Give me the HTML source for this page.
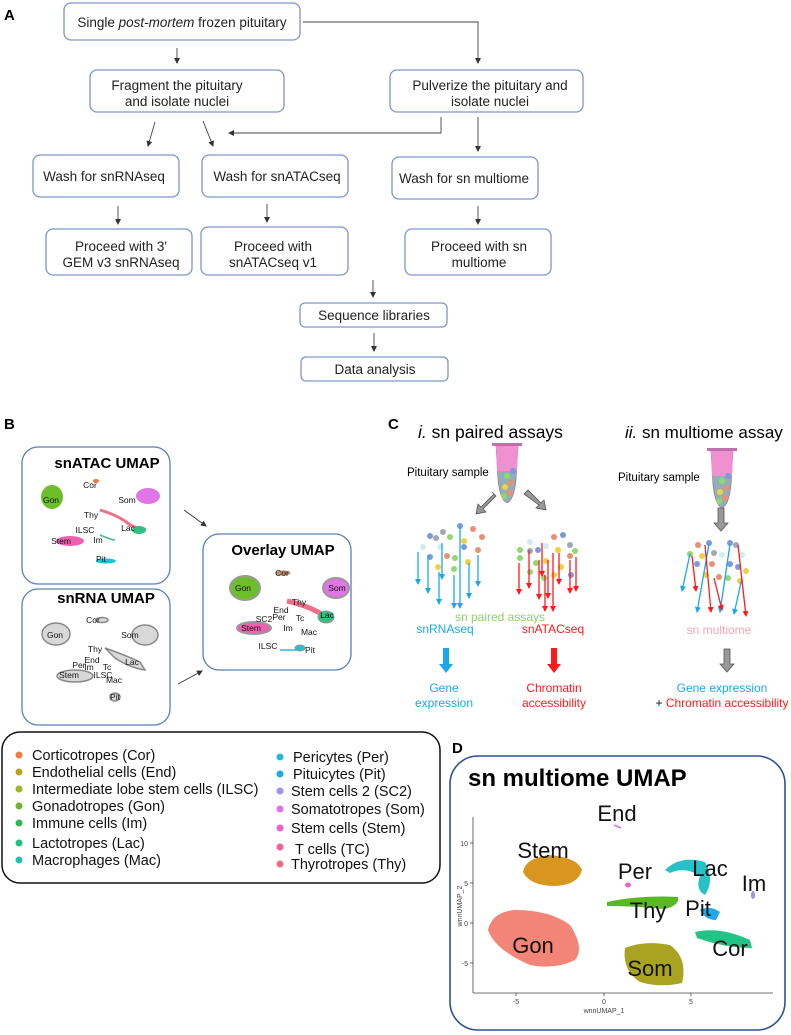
<!DOCTYPE html>
<html><head><meta charset="utf-8"><style>
html,body{margin:0;padding:0;background:#fff;}
svg{display:block;font-family:"Liberation Sans",sans-serif;}
</style></head><body>
<svg width="791" height="1035" viewBox="0 0 791 1035" xmlns="http://www.w3.org/2000/svg">
<defs>
<marker id="ah" markerWidth="6" markerHeight="6" refX="5" refY="3" orient="auto" markerUnits="userSpaceOnUse"><path d="M0,0 L6,3 L0,6 z" fill="#333"/></marker>
<marker id="ab" markerWidth="6" markerHeight="6" refX="5" refY="3" orient="auto" markerUnits="userSpaceOnUse"><path d="M0,0 L6,3 L0,6 z" fill="#1aa7ec"/></marker>
<marker id="ar" markerWidth="6" markerHeight="6" refX="5" refY="3" orient="auto" markerUnits="userSpaceOnUse"><path d="M0,0 L6,3 L0,6 z" fill="#ff1a1a"/></marker>
</defs>

<!-- Panel A -->
<text x="4" y="20" font-size="15" font-weight="bold">A</text>
<g fill="#fff" stroke="#7d96c6" stroke-width="1.3">
<rect x="64" y="3" width="236" height="37" rx="7"/>
<rect x="90" y="70" width="194" height="42" rx="7"/>
<rect x="390" y="70" width="193" height="42" rx="7"/>
<rect x="33" y="155" width="146" height="42" rx="7"/>
<rect x="202" y="155" width="146" height="42" rx="7"/>
<rect x="392" y="157" width="146" height="42" rx="7"/>
<rect x="46" y="229" width="146" height="46" rx="7"/>
<rect x="201" y="227" width="147" height="48" rx="7"/>
<rect x="405" y="229" width="146" height="46" rx="7"/>
<rect x="300" y="303" width="147" height="24" rx="5"/>
<rect x="301" y="357" width="147" height="24" rx="5"/>
</g>
<g font-size="13.5" fill="#222" text-anchor="middle">
<text x="182" y="27">Single <tspan font-style="italic">post-mortem</tspan> frozen pituitary</text>
<text x="177" y="90">Fragment the pituitary</text><text x="177" y="106">and isolate nuclei</text>
<text x="490" y="90">Pulverize the pituitary and</text><text x="490" y="106">isolate nuclei</text>
<text x="104" y="181">Wash for snRNAseq</text>
<text x="277" y="181">Wash for snATACseq</text>
<text x="464" y="183">Wash for sn multiome</text>
<text x="121" y="251">Proceed with 3'</text><text x="121" y="267">GEM v3 snRNAseq</text>
<text x="273" y="251">Proceed with</text><text x="273" y="267">snATACseq v1</text>
<text x="479" y="251">Proceed with sn</text><text x="479" y="267">multiome</text>
<text x="374" y="320">Sequence libraries</text>
<text x="375" y="374">Data analysis</text>
</g>
<g stroke="#444" stroke-width="0.9" fill="none" marker-end="url(#ah)">
<line x1="177" y1="48" x2="177" y2="63"/>
<polyline points="303,22 478,22 478,63"/>
<line x1="155" y1="122" x2="148" y2="146"/>
<line x1="203" y1="121" x2="213" y2="146"/>
<polyline points="441,117 441,133 229,133"/>
<line x1="478" y1="117" x2="478" y2="151"/>
<line x1="118" y1="206" x2="118" y2="224"/>
<line x1="267" y1="204" x2="267" y2="222"/>
<line x1="478" y1="206" x2="478" y2="224"/>
<line x1="373" y1="280" x2="373" y2="297"/>
<line x1="374" y1="333" x2="374" y2="351"/>
</g>

<!-- Panel B -->
<text x="4" y="429" font-size="15" font-weight="bold">B</text>
<g fill="#fff" stroke="#5a7db8" stroke-width="1.3">
<rect x="22" y="447" width="148" height="137" rx="16"/>
<rect x="22" y="589" width="148" height="136" rx="16"/>
<rect x="203" y="534" width="148" height="136" rx="16"/>
</g>
<g font-size="15" font-weight="bold" text-anchor="middle">
<text x="107" y="468">snATAC UMAP</text>
<text x="106" y="603">snRNA UMAP</text>
<text x="283" y="555">Overlay UMAP</text>
</g>
<g stroke="#333" stroke-width="0.9" marker-end="url(#ah)">
<line x1="184" y1="510" x2="206" y2="526"/>
<line x1="178" y1="684" x2="202" y2="671"/>
</g>
<ellipse cx="52" cy="497" rx="11" ry="12" fill="#6dbf2a"/>
<ellipse cx="96" cy="481" rx="3" ry="2" fill="#ef7a3a"/>
<ellipse cx="148" cy="496" rx="12" ry="8" fill="#e075e6"/>
<path d="M100,510 Q120,516 130,525 Q142,530 146,529" stroke="#ef6f8a" stroke-width="3" fill="none"/>
<ellipse cx="139" cy="530" rx="7" ry="4" fill="#30c080"/>
<path d="M100,535 Q112,540 115,540" stroke="#40c080" stroke-width="1.5" fill="none"/>
<ellipse cx="70" cy="541" rx="14" ry="5" fill="#f060b0"/>
<ellipse cx="106" cy="561" rx="10" ry="2.5" fill="#20c0d8"/>
<g font-size="8.5" text-anchor="middle" fill="#111">
<text x="90" y="488">Cor</text><text x="51" y="503">Gon</text><text x="127" y="503">Som</text>
<text x="91" y="518">Thy</text><text x="128" y="531">Lac</text><text x="85" y="533">ILSC</text>
<text x="98" y="543">Im</text><text x="61" y="544">Stem</text><text x="101" y="562">Pit</text>
</g>
<g fill="#d8d8d8" stroke="#888" stroke-width="1.5">
<ellipse cx="56" cy="634" rx="14" ry="11"/>
<ellipse cx="145" cy="635" rx="13" ry="10"/>
<ellipse cx="102" cy="620" rx="6" ry="2.5"/>
<path d="M105,648 Q125,655 140,662 L145,670 Q130,668 115,658 Z"/>
<ellipse cx="75" cy="676" rx="18" ry="6"/>
<ellipse cx="115" cy="697" rx="5" ry="4"/>
</g>
<g font-size="8.5" text-anchor="middle" fill="#111">
<text x="93" y="623">Cor</text><text x="55" y="638">Gon</text><text x="130" y="638">Som</text>
<text x="95" y="652">Thy</text><text x="92" y="663">End</text><text x="132" y="665">Lac</text>
<text x="79" y="668">Per</text><text x="89" y="670">Im</text><text x="107" y="670">Tc</text>
<text x="69" y="678">Stem</text><text x="103" y="678">ILSC</text><text x="114" y="683">Mac</text>
<text x="115" y="700">Pit</text>
</g>
<ellipse cx="245" cy="588" rx="15" ry="12" fill="#6dbf2a" stroke="#999" stroke-width="2"/>
<ellipse cx="283" cy="573" rx="7" ry="2" fill="#e0884a" stroke="#999"/>
<ellipse cx="336" cy="588" rx="13" ry="10" fill="#e075e6" stroke="#999" stroke-width="2"/>
<path d="M287,601 Q305,605 318,612 L328,620" stroke="#ef6f8a" stroke-width="5" fill="none"/>
<ellipse cx="326" cy="617" rx="8" ry="6" fill="#30c080" stroke="#999"/>
<ellipse cx="254" cy="628" rx="17" ry="6" fill="#f060b0" stroke="#999" stroke-width="2"/>
<path d="M280,650 L300,650" stroke="#20c0d8" stroke-width="1.5"/>
<ellipse cx="300" cy="648" rx="5" ry="3" fill="#20c0d8" stroke="#999"/>
<g font-size="8.5" text-anchor="middle" fill="#111">
<text x="282" y="576">Cor</text><text x="243" y="591">Gon</text><text x="337" y="591">Som</text>
<text x="299" y="605">Thy</text><text x="281" y="613">End</text><text x="327" y="618">Lac</text>
<text x="264" y="622">SC2</text><text x="279" y="620">Per</text><text x="300" y="621">Tc</text>
<text x="251" y="631">Stem</text><text x="288" y="631">Im</text><text x="309" y="635">Mac</text>
<text x="268" y="649">ILSC</text><text x="310" y="653">Pit</text>
</g>

<!-- Legend -->
<rect x="2" y="732" width="438" height="151" rx="18" fill="#fff" stroke="#111" stroke-width="1.5"/>
<g font-size="14.5" fill="#111">
<circle cx="19" cy="755" r="3.5" fill="#ef7a3a"/><text x="32" y="760">Corticotropes (Cor)</text>
<circle cx="19" cy="772" r="3.5" fill="#b8a21a"/><text x="32" y="777">Endothelial cells (End)</text>
<circle cx="19" cy="789" r="3.5" fill="#9fb420"/><text x="32" y="794">Intermediate lobe stem cells (ILSC)</text>
<circle cx="19" cy="806" r="3.5" fill="#6db82a"/><text x="32" y="811">Gonadotropes (Gon)</text>
<circle cx="19" cy="823" r="3.5" fill="#30b850"/><text x="32" y="828">Immune cells (Im)</text>
<circle cx="19" cy="843" r="3.5" fill="#20c080"/><text x="32" y="848">Lactotropes (Lac)</text>
<circle cx="19" cy="860" r="3.5" fill="#20c0b8"/><text x="32" y="865">Macrophages (Mac)</text>
<circle cx="280" cy="757" r="3.5" fill="#20b8d8"/><text x="293" y="762">Pericytes (Per)</text>
<circle cx="280" cy="774" r="3.5" fill="#20a8ea"/><text x="293" y="779">Pituicytes (Pit)</text>
<circle cx="280" cy="791" r="3.5" fill="#a090f0"/><text x="291" y="796">Stem cells 2 (SC2)</text>
<circle cx="280" cy="809" r="3.5" fill="#e070e8"/><text x="291" y="814">Somatotropes (Som)</text>
<circle cx="280" cy="828" r="3.5" fill="#f060c8"/><text x="291" y="833">Stem cells (Stem)</text>
<circle cx="280" cy="847" r="3.5" fill="#f060a0"/><text x="295" y="854">T cells (TC)</text>
<circle cx="280" cy="864" r="3.5" fill="#f06a80"/><text x="291" y="869">Thyrotropes (Thy)</text>
</g>

<!-- Panel C -->
<text x="388" y="429" font-size="15" font-weight="bold">C</text>
<text x="418" y="438" font-size="17.5"><tspan font-style="italic">i.</tspan> sn paired assays</text>
<text x="625" y="438" font-size="17"><tspan font-style="italic">ii.</tspan> sn multiome assay</text>
<g id="tube">
<rect x="492" y="443" width="30" height="3" fill="#c070b0"/>
<path d="M496,446 L518,446 L516,480 Q514,500 507,503 Q500,500 498,480 Z" fill="#8fb0b8" stroke="#a06090" stroke-width="0.6"/>
<path d="M496,446 L518,446 L517,471 L497,471 Z" fill="#f090d0"/>
<circle cx="513" cy="471" r="3" fill="#7a9ae0"/><circle cx="507" cy="476" r="3" fill="#90d870"/>
<circle cx="511" cy="483" r="3" fill="#e89070"/><circle cx="505" cy="487" r="3" fill="#f0d040"/>
<circle cx="510" cy="493" r="3" fill="#e89070"/><circle cx="504" cy="496" r="3" fill="#90d870"/>
</g>
<use href="#tube" x="215" y="5"/>
<text x="407" y="476" font-size="11.5">Pituitary sample</text>
<text x="618" y="481" font-size="11.5">Pituitary sample</text>
<g fill="#999" stroke="#555" stroke-width="0.8">
<path d="M492,492 L496,496 L483,509 L486,512 L476,514 L478,504 L481,507 L494,494 Z"/>
<path d="M524,494 L528,490 L541,503 L544,500 L546,510 L536,508 L539,505 Z"/>
<path d="M718,508 L724,508 L724,523 L728,523 L721,531 L714,523 L718,523 Z"/>
<path d="M724,649 L730,649 L730,664 L734,664 L727,672 L720,664 L724,664 Z"/>
</g>
<path d="M443,648 L449,648 L449,664 L453,664 L446,673 L439,664 L443,664 Z" fill="#1aa7ec"/>
<path d="M551,648 L557,648 L557,664 L561,664 L554,673 L547,664 L551,664 Z" fill="#ff1a1a"/>
<g>
<circle cx="430" cy="536" r="3" fill="#7a9ae0"/><circle cx="436" cy="538" r="3" fill="#a0a8b8"/>
<circle cx="443" cy="532" r="3" fill="#a0a8b8"/><circle cx="450" cy="537" r="3" fill="#90d870"/>
<circle cx="460" cy="526" r="3" fill="#7a9ae0"/><circle cx="473" cy="529" r="3" fill="#e89070"/>
<circle cx="482" cy="537" r="3" fill="#e89070"/><circle cx="464" cy="541" r="3" fill="#f0d040"/>
<circle cx="464" cy="547" r="3" fill="#7a9ae0"/><circle cx="423" cy="547" r="3" fill="#d0ecf0"/>
<circle cx="440" cy="547" r="3" fill="#d0ecf0"/><circle cx="478" cy="550" r="3" fill="#e89070"/>
<circle cx="430" cy="557" r="3" fill="#7a9ae0"/><circle cx="447" cy="556" r="3" fill="#e89070"/>
<circle cx="455" cy="558" r="3" fill="#90d870"/><circle cx="468" cy="562" r="3" fill="#f0d040"/>
<circle cx="438" cy="567" r="3" fill="#f0d040"/><circle cx="454" cy="569" r="3" fill="#90d870"/>
</g>
<g stroke="#1aa7ec" stroke-width="1.3" marker-end="url(#ab)">
<line x1="418" y1="552" x2="418" y2="584"/><line x1="428" y1="555" x2="428" y2="593"/>
<line x1="439" y1="572" x2="439" y2="604"/><line x1="442" y1="543" x2="442" y2="579"/>
<line x1="454" y1="575" x2="454" y2="608"/><line x1="460" y1="527" x2="460" y2="608"/>
<line x1="469" y1="563" x2="469" y2="598"/><line x1="478" y1="555" x2="478" y2="586"/>
</g>
<g>
<circle cx="554" cy="537" r="3" fill="#e89070"/><circle cx="563" cy="535" r="3" fill="#7a9ae0"/>
<circle cx="570" cy="545" r="3" fill="#a0a8b8"/><circle cx="530" cy="542" r="3" fill="#d0ecf0"/>
<circle cx="520" cy="550" r="3" fill="#90d870"/><circle cx="530" cy="551" r="3" fill="#a0a8b8"/>
<circle cx="538" cy="550" r="3" fill="#7a9ae0"/><circle cx="546" cy="546" r="3" fill="#d0ecf0"/>
<circle cx="558" cy="550" r="3" fill="#f0d040"/><circle cx="575" cy="551" r="3" fill="#90d870"/>
<circle cx="520" cy="558" r="3" fill="#90d870"/><circle cx="536" cy="563" r="3" fill="#90d870"/>
<circle cx="546" cy="561" r="3" fill="#f0d040"/><circle cx="570" cy="556" r="3" fill="#e89070"/>
<circle cx="530" cy="572" r="3" fill="#90d870"/><circle cx="561" cy="567" r="3" fill="#f0d040"/>
<circle cx="544" cy="578" r="3" fill="#90d870"/><circle cx="554" cy="575" r="3" fill="#f0d040"/>
<circle cx="571" cy="575" r="3" fill="#7a9ae0"/>
</g>
<g stroke="#ff1a1a" stroke-width="1.3" marker-end="url(#ar)">
<line x1="519" y1="563" x2="519" y2="594"/><line x1="529" y1="550" x2="529" y2="588"/>
<line x1="539" y1="560" x2="539" y2="599"/><line x1="542" y1="543" x2="542" y2="576"/>
<line x1="545" y1="575" x2="545" y2="611"/><line x1="548" y1="560" x2="548" y2="598"/>
<line x1="553" y1="553" x2="553" y2="611"/><line x1="559" y1="553" x2="559" y2="584"/>
<line x1="570" y1="560" x2="570" y2="593"/><line x1="576" y1="557" x2="576" y2="591"/>
</g>
<g>
<circle cx="698" cy="545" r="3" fill="#e89070"/><circle cx="709" cy="543" r="3" fill="#7a9ae0"/>
<circle cx="730" cy="543" r="3" fill="#7a9ae0"/><circle cx="736" cy="545" r="3" fill="#a0a8b8"/>
<circle cx="690" cy="554" r="3" fill="#90d870"/><circle cx="702" cy="556" r="3" fill="#f0d040"/>
<circle cx="714" cy="553" r="3" fill="#a0a8b8"/><circle cx="722" cy="555" r="3" fill="#d0ecf0"/>
<circle cx="742" cy="555" r="3" fill="#d0ecf0"/><circle cx="697" cy="564" r="3" fill="#7a9ae0"/>
<circle cx="712" cy="564" r="3" fill="#e89070"/><circle cx="730" cy="564" r="3" fill="#7a9ae0"/>
<circle cx="738" cy="567" r="3" fill="#7a9ae0"/><circle cx="746" cy="571" r="3" fill="#f0d040"/>
<circle cx="706" cy="575" r="3" fill="#f0d040"/><circle cx="719" cy="577" r="3" fill="#e89070"/>
<circle cx="728" cy="578" r="3" fill="#90d870"/><circle cx="740" cy="581" r="3" fill="#f0d040"/>
</g>
<g stroke="#1aa7ec" stroke-width="1.3" marker-end="url(#ab)">
<line x1="690" y1="554" x2="682" y2="591"/><line x1="709" y1="544" x2="697" y2="612"/>
<line x1="730" y1="544" x2="720" y2="612"/><line x1="742" y1="578" x2="734" y2="614"/>
</g>
<g stroke="#ff1a1a" stroke-width="1.3" marker-end="url(#ar)">
<line x1="692" y1="556" x2="696" y2="591"/><line x1="705" y1="545" x2="711" y2="612"/>
<line x1="738" y1="545" x2="746" y2="616"/><line x1="714" y1="578" x2="722" y2="610"/>
</g>
<g font-size="12" text-anchor="middle">
<text x="500" y="621" fill="#8fd35a">sn paired assays</text>
<text x="445" y="633" fill="#1aa7ec">snRNAseq</text>
<text x="553" y="633" fill="#ff1a1a">snATACseq</text>
<text x="719" y="634" fill="#f4a6b0">sn multiome</text>
<text x="444" y="692" fill="#1aa7ec">Gene</text><text x="444" y="707" fill="#1aa7ec">expression</text>
<text x="554" y="692" fill="#ff1a1a">Chromatin</text><text x="554" y="707" fill="#ff1a1a">accessibility</text>
<text x="722" y="692" fill="#1aa7ec">Gene expression</text>
<text x="722" y="707"><tspan fill="#111">+ </tspan><tspan fill="#ff1a1a">Chromatin accessibility</tspan></text>
</g>

<!-- Panel D -->
<text x="452" y="753" font-size="15" font-weight="bold">D</text>
<rect x="450" y="756" width="335" height="274" rx="28" fill="#fff" stroke="#2b5296" stroke-width="1.6"/>
<text x="468" y="786" font-size="24" font-weight="bold">sn multiome UMAP</text>
<g stroke="#444" stroke-width="0.8">
<line x1="473" y1="817" x2="473" y2="993"/><line x1="473" y1="993" x2="773" y2="993"/>
<line x1="470" y1="843" x2="473" y2="843"/><line x1="470" y1="883" x2="473" y2="883"/>
<line x1="470" y1="923" x2="473" y2="923"/><line x1="470" y1="963" x2="473" y2="963"/>
<line x1="516" y1="993" x2="516" y2="996"/><line x1="604" y1="993" x2="604" y2="996"/><line x1="691" y1="993" x2="691" y2="996"/>
</g>
<g font-size="7" fill="#444" text-anchor="end">
<text x="468" y="846">10</text><text x="468" y="886">5</text><text x="468" y="926">0</text><text x="468" y="966">-5</text>
</g>
<g font-size="7" fill="#444" text-anchor="middle">
<text x="516" y="1004">-5</text><text x="604" y="1004">0</text><text x="691" y="1004">5</text>
<text x="604" y="1013">wnnUMAP_1</text>
</g>
<text x="462" y="906" font-size="7" fill="#444" text-anchor="middle" transform="rotate(-90 462 906)">wnnUMAP_2</text>
<path d="M523,872 Q525,858 550,855 Q578,858 582,870 Q578,885 555,886 Q530,886 523,872 Z" fill="#d8961e"/>
<path d="M488,930 Q492,912 515,910 Q550,910 570,925 Q585,948 575,960 Q555,970 530,965 Q495,950 488,930 Z" fill="#f28478"/>
<path d="M625,948 Q645,940 670,945 Q688,958 682,983 Q660,988 640,982 Q622,970 625,948 Z" fill="#aaa322"/>
<path d="M695,932 Q720,926 750,940 L752,948 Q725,948 697,938 Z" fill="#22c386"/>
<path d="M700,910 Q710,905 720,912 L716,920 Q705,920 700,910 Z" fill="#1ea9ea"/>
<path d="M665,870 Q680,855 705,862 Q715,880 705,895 Q695,890 700,876 Q685,866 670,873 Z" fill="#27c2c7"/>
<path d="M607,902 Q640,895 678,897 Q680,905 665,909 Q635,906 607,906 Z" fill="#5ab823"/>
<ellipse cx="628" cy="885" rx="3" ry="2.5" fill="#f060c8"/>
<ellipse cx="753" cy="895" rx="2" ry="4" fill="#a090f0"/>
<line x1="614" y1="825" x2="621" y2="828" stroke="#e070e8" stroke-width="1.5"/>
<g font-size="22" fill="#111" text-anchor="middle">
<text x="617" y="821">End</text><text x="543" y="858">Stem</text><text x="635" y="879">Per</text>
<text x="710" y="876">Lac</text><text x="754" y="891">Im</text><text x="648" y="918">Thy</text>
<text x="698" y="916">Pit</text><text x="533" y="953">Gon</text><text x="730" y="956">Cor</text>
<text x="650" y="976">Som</text>
</g>
</svg>
</body></html>
